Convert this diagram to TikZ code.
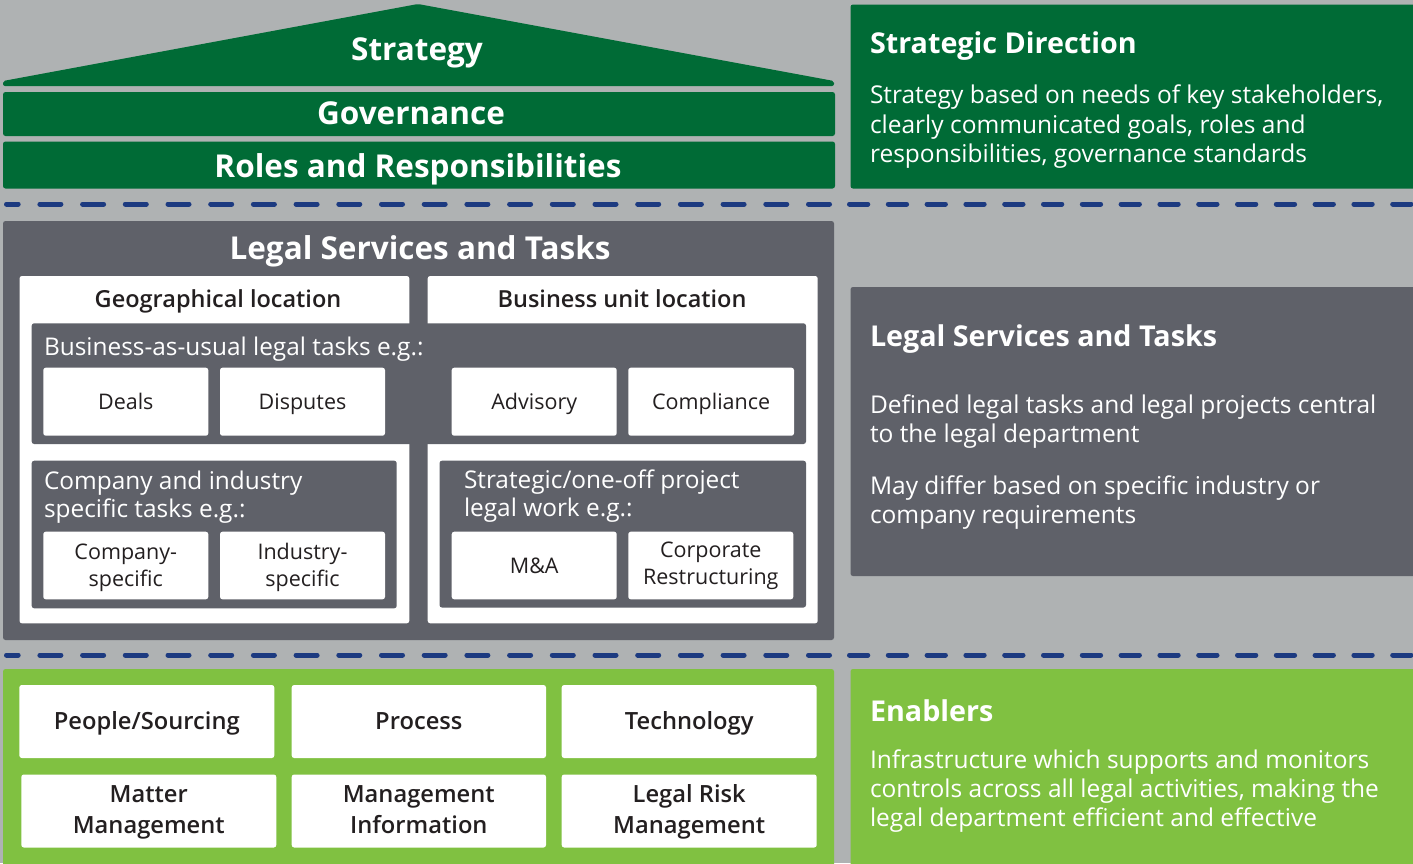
\documentclass[tikz,border=0pt]{standalone}
\usepackage{fontspec}
\setmainfont{Open Sans}
\IfFontExistsTF{Open Sans SemiBold}{\newfontfamily\semib{Open Sans SemiBold}}{%
  \IfFontExistsTF{Open Sans Semibold}{\newfontfamily\semib{Open Sans Semibold}}{%
    \newfontfamily\semib{Open Sans}[FakeBold=1]}}
\definecolor{bgc}{RGB}{175,178,179}
\definecolor{dkgreen}{RGB}{0,107,54}
\definecolor{dkgray}{RGB}{95,97,105}
\definecolor{ltgreen}{RGB}{128,193,65}
\definecolor{navy}{RGB}{28,58,128}
\definecolor{ink}{RGB}{35,31,32}
\newcommand\rbox[6]{\node[#6, minimum width={#4-#2}, minimum height={#5-#3}] (#1) at ({(#2+#4)/2},{(#3+#5)/2}) {};}
\begin{document}
\begin{tikzpicture}[x=1pt,y=-1pt,
  box/.style={rectangle, rounded corners=2.5pt, inner sep=0pt, outer sep=0pt, draw=none},
  wbox/.style={box, fill=white},
  gbox/.style={box, fill=dkgray},
  txt/.style={inner sep=0pt, outer sep=0pt},
  bigw/.style={txt, text=white, font=\fontsize{31.5}{37}\selectfont\bfseries},
  rtitle/.style={txt, text=white, font=\fontsize{28.7}{34}\selectfont\bfseries, anchor=base west},
  rbody/.style={txt, text=white, font=\fontsize{24.5}{29.5}\selectfont, anchor=base west},
  panelhead/.style={txt, text=ink, font=\fontsize{23.5}{28}\selectfont\semib, anchor=base},
  subhead/.style={txt, text=white, font=\fontsize{24.4}{28}\selectfont, anchor=base west},
  lbl/.style={txt, text=ink, font=\fontsize{21.5}{27}\selectfont, anchor=base},
  elbl/.style={txt, text=ink, font=\fontsize{23.7}{29}\selectfont\semib, anchor=base},
  sep/.style={navy, line width=5pt, line cap=round}
]
\path[fill=bgc, use as bounding box] (0,0) rectangle (1413,863);

% ---------- top: strategy roof ----------
\fill[dkgreen, rounded corners=2pt] (3,86) -- (3,81) -- (418,4) -- (834,81) -- (834,86) -- cycle;
\node[bigw, anchor=base] (strategy) at (417,60) {Strategy};
\rbox{gov}{3}{92}{835}{136}{box, fill=dkgreen}
\node[bigw, anchor=base] (govt) at (411,124) {Governance};
\rbox{roles}{3}{141.5}{835}{188.5}{box, fill=dkgreen}
\node[bigw, anchor=base] (rolest) at (418,177) {Roles and Responsibilities};

\rbox{sd}{850.5}{4.5}{1420}{188.5}{box, fill=dkgreen}
\node[rtitle] (sdt) at (870,53.3) {Strategic Direction};
\node[rbody] (sd1) at (870,103.5) {Strategy based on needs of key stakeholders,};
\node[rbody] (sd2) at (870,133) {clearly communicated goals, roles and};
\node[rbody] (sd3) at (870,162.5) {responsibilities, governance standards};

% ---------- separators ----------
\draw[sep, dash pattern=on 21pt off 21.7pt, dash phase=9.3pt] (6.5,204) -- (831,204);
\draw[sep, dash pattern=on 18.3pt off 20.5pt] (849.5,204) -- (1416,204);
\draw[sep, dash pattern=on 21pt off 21.7pt, dash phase=9.3pt] (6.5,655) -- (831,655);
\draw[sep, dash pattern=on 18.3pt off 20.5pt] (849.5,655) -- (1416,655);

% ---------- legal services ----------
\rbox{ls}{3}{221}{834}{640}{gbox}
\node[bigw, anchor=base] (lst) at (420,259.3) {Legal Services and Tasks};
\rbox{geo}{19.5}{276}{409.3}{623.3}{wbox}
\rbox{bu}{427.7}{276}{817.7}{623.3}{wbox}
\node[panelhead] (geot) at (218,307) {Geographical location};
\node[panelhead] (but) at (622,307) {Business unit location};

\rbox{bau}{31.7}{323.3}{806}{444}{gbox}
\node[subhead] (baut) at (44,355) {Business-as-usual legal tasks e.g.:};
\rbox{deals}{43.3}{367.7}{208.3}{435.7}{wbox}
\rbox{disp}{220}{367.7}{385}{435.7}{wbox}
\rbox{adv}{451.7}{367.7}{616.7}{435.7}{wbox}
\rbox{comp}{628.3}{367.7}{794}{435.7}{wbox}
\node[lbl] (dealst) at ([yshift=-7.8pt]deals.center) {Deals};
\node[lbl] (dispt) at ([yshift=-7.8pt]disp.center) {Disputes};
\node[lbl] (advt) at ([yshift=-7.8pt]adv.center) {Advisory};
\node[lbl] (compt) at ([yshift=-7.8pt]comp.center) {Compliance};

\rbox{ci}{31.7}{460.7}{396.7}{608.3}{gbox}
\node[subhead] (ci1) at (44,489.3) {Company and industry};
\node[subhead] (ci2) at (44,517.7) {specific tasks e.g.:};
\rbox{cs}{43.3}{531.7}{208.3}{599.3}{wbox}
\rbox{is}{220}{531.7}{385}{599.3}{wbox}
\node[lbl] (cs1) at (125.8,559) {Company-};
\node[lbl] (cs2) at (125.8,586) {specific};
\node[lbl] (is1) at (302.5,559) {Industry-};
\node[lbl] (is2) at (302.5,586) {specific};

\rbox{so}{439.5}{460.7}{806}{607.5}{gbox}
\node[subhead] (so1) at (464,488.3) {Strategic/one-off project};
\node[subhead] (so2) at (464,516.7) {legal work e.g.:};
\rbox{ma}{451.7}{531.7}{616.7}{599.3}{wbox}
\rbox{cr}{628.3}{531.7}{793.3}{599.3}{wbox}
\node[lbl] (mat) at ([yshift=-7.8pt]ma.center) {M\&A};
\node[lbl] (cr1) at (710.8,557.5) {Corporate};
\node[lbl] (cr2) at (710.8,584.5) {Restructuring};

\rbox{lsr}{850.5}{287}{1420}{576}{gbox}
\node[rtitle] (lsrt) at (870,346.7) {Legal Services and Tasks};
\node[rbody] (lsr1) at (870,413.3) {Defined legal tasks and legal projects central};
\node[rbody] (lsr2) at (870,442.7) {to the legal department};
\node[rbody] (lsr3) at (870,494.3) {May differ based on specific industry or};
\node[rbody] (lsr4) at (870,523.3) {company requirements};

% ---------- enablers ----------
\rbox{en}{3}{669}{834}{870}{box, fill=ltgreen}
\rbox{people}{19.3}{685}{274.3}{758}{wbox}
\rbox{proc}{291.7}{685}{546}{758}{wbox}
\rbox{tech}{561.7}{685}{816.7}{758}{wbox}
\rbox{matter}{21.3}{774.5}{276.3}{847.5}{wbox}
\rbox{mi}{291.7}{774.5}{546}{847.5}{wbox}
\rbox{lrm}{561.7}{774.5}{816.7}{847.5}{wbox}
\node[elbl] (peoplet) at ([yshift=-8.3pt]people.center) {People/Sourcing};
\node[elbl] (proct) at ([yshift=-8.3pt]proc.center) {Process};
\node[elbl] (techt) at ([yshift=-8.3pt]tech.center) {Technology};
\node[elbl] (matter1) at (148.8,802.7) {Matter};
\node[elbl] (matter2) at (148.8,833) {Management};
\node[elbl] (mi1) at (418.8,802.7) {Management};
\node[elbl] (mi2) at (418.8,833) {Information};
\node[elbl] (lrm1) at (689.2,802.7) {Legal Risk};
\node[elbl] (lrm2) at (689.2,833) {Management};

\rbox{enr}{850.5}{669}{1420}{870}{box, fill=ltgreen}
\node[rtitle] (enrt) at (870,721.7) {Enablers};
\node[rbody] (enr1) at (870,768.3) {Infrastructure which supports and monitors};
\node[rbody] (enr2) at (870,797.3) {controls across all legal activities, making the};
\node[rbody] (enr3) at (870,826) {legal department efficient and effective};
\end{tikzpicture}
\end{document}
